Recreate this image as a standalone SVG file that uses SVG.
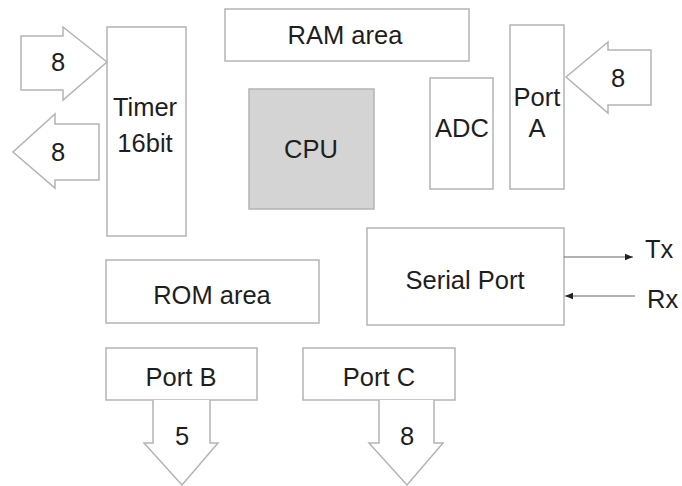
<svg xmlns="http://www.w3.org/2000/svg" width="682" height="486" viewBox="0 0 682 486">
<style>
.box{fill:#fff;stroke:#b4b4b4;stroke-width:1.5}
.cpu{fill:#d4d4d4;stroke:#b4b4b4;stroke-width:1.5}
.arr{fill:#fff;stroke:#b4b4b4;stroke-width:1.5;stroke-linejoin:miter}
.t{font-family:"Liberation Sans",Arial,sans-serif;font-size:25.5px;fill:#1e1e1e;text-anchor:middle}
.ts{text-anchor:start}
.ln{stroke:#666;stroke-width:1.2;fill:none}
</style>
<defs>
<marker id="ah" viewBox="0 0 10 10" refX="10" refY="5" markerWidth="8" markerHeight="8" markerUnits="userSpaceOnUse" orient="auto">
<path d="M0,1 L10,5 L0,9 z" fill="#222"/>
</marker>
</defs>
<rect width="682" height="486" fill="#fff"/>
<g id="ram"><rect class="box" x="225" y="9" width="244" height="52"/><text class="t" x="345" y="44">RAM area</text></g>
<g id="timer"><rect class="box" x="107" y="27" width="79" height="209"/><text class="t" x="145" y="116">Timer</text><text class="t" x="145" y="152">16bit</text></g>
<g id="cpu"><rect class="cpu" x="249" y="89" width="125" height="120"/><text class="t" x="311" y="158">CPU</text></g>
<g id="adc"><rect class="box" x="430" y="78" width="63" height="111"/><text class="t" x="462" y="137">ADC</text></g>
<g id="porta"><rect class="box" x="510" y="25" width="54" height="164"/><text class="t" x="537" y="106">Port</text><text class="t" x="537" y="137">A</text></g>
<g id="serial"><rect class="box" x="367" y="228" width="197" height="97"/><text class="t" x="465" y="289">Serial Port</text></g>
<g id="rom"><rect class="box" x="106" y="260" width="213" height="63"/><text class="t" x="212" y="304">ROM area</text></g>
<g id="portb"><rect class="box" x="106" y="348" width="151" height="52"/><text class="t" x="181" y="386">Port B</text></g>
<g id="portc"><rect class="box" x="303" y="348" width="152" height="52"/><text class="t" x="379" y="386">Port C</text></g>
<g id="connectors">
<g id="timer-in"><path class="arr" d="M21,36 H63 V27 L107,62 L63,100 V90 H21 Z"/><text class="t" x="58" y="71">8</text></g>
<g id="timer-out"><path class="arr" d="M99,124 H55 V114 L13,152 L55,188 V180 H99 Z"/><text class="t" x="58" y="161">8</text></g>
<g id="porta-in"><path class="arr" d="M651,50 H608 V42 L566,77 L608,113 V105 H651 Z"/><text class="t" x="618" y="87">8</text></g>
<g id="portb-out"><path class="arr" d="M153,400 V443 H144 L182,485 L218,443 H210 V400"/><text class="t" x="182" y="445">5</text></g>
<g id="portc-out"><path class="arr" d="M379,400 V443 H369 L407,485 L443,443 H434 V400"/><text class="t" x="407" y="445">8</text></g>
<g id="tx"><line class="ln" x1="564" y1="257" x2="633" y2="257" marker-end="url(#ah)"/><text class="t ts" x="645" y="258">Tx</text></g>
<g id="rx"><line class="ln" x1="635" y1="296" x2="565" y2="296" marker-end="url(#ah)"/><text class="t ts" x="647" y="308">Rx</text></g>
</g>
</svg>
